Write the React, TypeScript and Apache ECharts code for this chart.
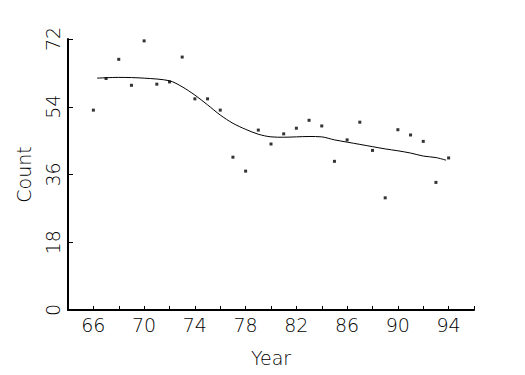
import React, { useEffect, useRef } from "react";
import * as echarts from "echarts";

const years = [66, 67, 68, 69, 70, 71, 72, 73, 74, 75, 76, 77, 78, 79, 80, 81, 82, 83, 84, 85, 86, 87, 88, 89, 90, 91, 92, 93, 94];
const counts = [53.1, 61.5, 66.6, 59.7, 71.5, 60.0, 60.6, 67.2, 56.1, 56.1, 53.1, 40.6, 36.9, 47.8, 44.1, 46.8, 48.3, 50.4, 48.9, 39.5, 45.2, 49.9, 42.4, 29.8, 47.9, 46.5, 44.8, 33.9, 40.4];
const smoothYears = [66.3, 68, 70, 72, 73, 74, 75, 76, 77, 78, 79, 80, 81, 82, 83, 84, 85, 86, 87, 88, 89, 90, 91, 92, 93, 93.8];
const smoothValues = [61.6, 61.8, 61.6, 60.9, 59.3, 57.1, 54.5, 51.8, 49.6, 48.0, 46.7, 46.0, 45.9, 46.0, 46.1, 46.0, 45.2, 44.6, 44.0, 43.4, 42.8, 42.3, 41.7, 40.9, 40.5, 39.8];
const xTickLabels = [66, 70, 74, 78, 82, 86, 90, 94];
const yTicks = [0, 18, 36, 54, 72];

const FONT = "DejaVu Sans";

export default function App() {
  const ref = useRef<HTMLDivElement>(null);
  useEffect(() => {
    if (!ref.current) return;
    const chart = echarts.init(ref.current, undefined, { renderer: "svg" });
    const axisText = { color: "#000", fontFamily: FONT, fontSize: 19, fontWeight: 200 as any };
    chart.setOption({
      animation: false,
      backgroundColor: "#fff",
      grid: { left: 68, right: 51, top: 39, bottom: 65 },
      xAxis: {
        type: "value",
        min: 64,
        max: 96,
        interval: 2,
        name: "Year",
        nameLocation: "middle",
        nameGap: 38,
        nameTextStyle: axisText,
        axisLine: { show: true, lineStyle: { color: "#000", width: 2 } },
        axisTick: { show: true, inside: true, length: 4, lineStyle: { color: "#000", width: 1 } },
        axisLabel: {
          ...axisText,
          margin: 5,
          showMinLabel: true,
          showMaxLabel: true,
          formatter: (v: number) => (xTickLabels.includes(v) ? String(v) : ""),
        },
        splitLine: { show: false },
      },
      yAxis: {
        type: "value",
        min: 0,
        max: 72,
        interval: 18,
        name: "Count",
        nameLocation: "middle",
        nameRotate: 90,
        nameGap: 35,
        nameTextStyle: axisText,
        axisLine: { show: true, lineStyle: { color: "#000", width: 2 } },
        axisTick: { show: true, inside: true, length: 5, lineStyle: { color: "#000", width: 1 } },
        axisLabel: {
          ...axisText,
          rotate: 90,
          margin: 6,
          formatter: (v: number) => (yTicks.includes(v) ? String(v) : ""),
        },
        splitLine: { show: false },
      },
      series: [
        {
          type: "scatter",
          data: years.map((y, i) => [y, counts[i]]),
          symbol: "rect",
          symbolSize: 3,
          itemStyle: { color: "#000" },
        },
        {
          type: "line",
          data: smoothYears.map((y, i) => [y, smoothValues[i]]),
          showSymbol: false,
          smooth: 0.3,
          lineStyle: { color: "#000", width: 1 },
        },
      ],
    });
    return () => chart.dispose();
  }, []);
  return (
    <div
      ref={ref}
      style={{ position: "fixed", left: 0, top: 0, width: 525, height: 375, background: "#fff" }}
    />
  );
}
